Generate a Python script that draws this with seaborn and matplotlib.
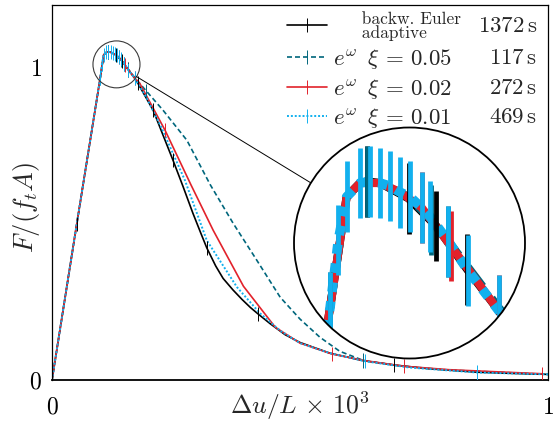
import numpy as np
import matplotlib
matplotlib.use("Agg")
import matplotlib.pyplot as plt
import seaborn as sns
from matplotlib.lines import Line2D
from matplotlib.patches import Circle, Ellipse

# ---------------------------------------------------------------- data
# backward Euler, adaptive step size (reference solution)
euler_x = np.array([0, 0.05, 0.0974, 0.1042, 0.1097, 0.1125, 0.118, 0.1296, 0.141,
                    0.1536, 0.1666, 0.173, 0.204, 0.244, 0.264, 0.284, 0.30, 0.312,
                    0.33, 0.345, 0.365, 0.383, 0.40, 0.415, 0.44, 0.47, 0.5, 0.56,
                    0.627, 0.69, 0.76, 0.857, 0.93, 1.0])
euler_y = np.array([0, 0.50, 0.968, 1.040, 1.049, 1.050, 1.049, 1.039, 1.021,
                    0.993, 0.966, 0.950, 0.863, 0.703, 0.620, 0.534, 0.470, 0.423,
                    0.365, 0.325, 0.288, 0.258, 0.232, 0.212, 0.180, 0.145, 0.120, 0.086,
                    0.062, 0.048, 0.036, 0.025, 0.021, 0.018])
euler_bars = [0.05, 0.1125, 0.1296, 0.141, 0.1536, 0.173, 0.204, 0.244, 0.312, 0.415, 0.69, 1.0]

# exponential integrator, xi = 0.05
xi05_x = np.array([0, 0.05, 0.0974, 0.1042, 0.1097, 0.1125, 0.118, 0.1296, 0.139, 0.146,
                   0.1666, 0.19, 0.224, 0.272, 0.319, 0.365, 0.413, 0.46, 0.5, 0.54,
                   0.58, 0.627, 0.70, 0.80, 1.0])
xi05_y = np.array([0, 0.50, 0.968, 1.040, 1.049, 1.050, 1.049, 1.040, 1.025, 1.011,
                   0.968, 0.925, 0.863, 0.767, 0.625, 0.502, 0.383, 0.265, 0.195, 0.137,
                   0.092, 0.063, 0.045, 0.032, 0.018])
xi05_bars = [0.0974, 0.1125, 0.139, 0.146, 0.19, 0.627]

# exponential integrator, xi = 0.02
xi02_x = np.array([0, 0.05, 0.0974, 0.1042, 0.1097, 0.118, 0.1262, 0.135, 0.147, 0.1666,
                   0.177, 0.228, 0.28, 0.325, 0.386, 0.45, 0.5, 0.565, 0.63, 0.71,
                   0.80, 0.90, 0.988])
xi02_y = np.array([0, 0.50, 0.968, 1.040, 1.049, 1.049, 1.043, 1.033, 1.008, 0.966,
                   0.949, 0.799, 0.625, 0.479, 0.300, 0.169, 0.118, 0.083, 0.062, 0.044,
                   0.033, 0.026, 0.020])
xi02_bars = [0.135, 0.147, 0.1666, 0.228, 0.565, 0.71, 0.988]

# exponential integrator, xi = 0.01
xi01_x = np.array([0, 0.05, 0.0974, 0.1008, 0.1042, 0.1097, 0.1138, 0.118, 0.122, 0.1262,
                   0.1302, 0.135, 0.1385, 0.146, 0.154, 0.1666, 0.19, 0.22, 0.268, 0.312,
                   0.373, 0.419, 0.46, 0.5, 0.56, 0.631, 0.72, 0.857, 0.93, 1.0])
xi01_y = np.array([0, 0.50, 0.968, 1.012, 1.040, 1.049, 1.050, 1.049, 1.047, 1.043,
                   1.040, 1.033, 1.027, 1.011, 0.992, 0.966, 0.905, 0.810, 0.639, 0.447,
                   0.297, 0.214, 0.158, 0.118, 0.086, 0.060, 0.040, 0.024, 0.021, 0.018])
xi01_bars = [0.0974, 0.1008, 0.1042, 0.1097, 0.1138, 0.118, 0.122, 0.1262, 0.1302,
             0.135, 0.1385, 0.146, 0.154, 0.1666, 0.631, 0.857]

labels = ["     backw. Euler\n     adaptive",
          r"$e^{\omega}\;\;\xi\,=\,0.05$",
          r"$e^{\omega}\;\;\xi\,=\,0.02$",
          r"$e^{\omega}\;\;\xi\,=\,0.01$"]
run_times = [r"$1372\,\mathrm{s}$", r"$117\,\mathrm{s}$", r"$272\,\mathrm{s}$", r"$469\,\mathrm{s}$"]

x_ticks = [0, 1]
y_ticks = [0, 1]

# ---------------------------------------------------------------- style
sns.set_theme(style="white")
plt.rcParams.update({
    "font.family": "serif",
    "font.serif": ["cmr10"],
    "mathtext.fontset": "cm",
    "axes.formatter.use_mathtext": True,
    "axes.unicode_minus": False,
})

colors = ["#000000", "#00667c", "#e2222b", "#12b0ee"]
styles = ["-", (0, (3.0, 1.8)), "-", (0, (1.0, 1.0))]
widths = [1.2, 1.2, 1.2, 1.4]
err = 0.023

series = [(euler_x, euler_y, euler_bars),
          (xi05_x, xi05_y, xi05_bars),
          (xi02_x, xi02_y, xi02_bars),
          (xi01_x, xi01_y, xi01_bars)]


def draw_curves(axis, scale):
    for (xs, ys, bars), c, ls, lw in zip(series, colors, styles, widths):
        sns.lineplot(x=xs, y=ys, ax=axis, color=c, linestyle=ls, linewidth=lw * scale,
                     sort=False, estimator=None, legend=False, zorder=2)
    for (xs, ys, bars), c in zip(series, colors):
        m = np.isin(xs, bars)
        axis.errorbar(xs[m], ys[m], yerr=err, fmt="none", ecolor=c,
                      elinewidth=0.7 * scale, capsize=0, zorder=3)


fig = plt.figure(figsize=(5.55, 4.23), dpi=100)
ax = fig.add_axes([52 / 555, 43 / 423, 496 / 555, 375 / 423])
draw_curves(ax, 1.0)

ax.set_xlim(0, 1)
ax.set_ylim(0, 1.2)
ax.set_xticks(x_ticks)
ax.set_yticks(y_ticks)
ax.tick_params(axis="both", direction="in", length=7, width=0.8, color="#999999",
               labelsize=17, colors="#999999", labelcolor="black")
ax.tick_params(axis="x", pad=12)
ax.tick_params(axis="y", pad=7)
for s in ax.spines.values():
    s.set_color("black")
    s.set_linewidth(0.9)
ax.spines["bottom"].set_linewidth(1.3)

ax.set_xlabel(r"$\Delta u/L\,\times\,10^3$", fontsize=18.5)
ax.set_ylabel(r"$F/(f_tA)$", fontsize=19)
ax.xaxis.label.set_va("baseline")
ax.xaxis.set_label_coords(0.5, -0.09)
ax.yaxis.set_label_coords(-0.02, 0.46)

# ---------------------------------------------------------------- magnifier
cx, cy = 0.130, 1.01       # centre of the magnified region
hx, hy = 0.0474, 0.0751    # half-extent of the magnified region
ax.add_patch(Ellipse((cx, cy), 2 * hx, 2 * hy, fill=False, ec="#3a3a3a", lw=0.8, zorder=4))

axin = fig.add_axes([294 / 555, (423 - 358.5) / 423, 231 / 555, 231 / 423])
axin.axis("off")
mag = 231 / (2 * hx * 496)
axin.add_patch(Circle((0.5, 0.5), 0.5, transform=axin.transAxes, fc="white", ec="none", zorder=0))
draw_curves(axin, mag)
axin.set_xlim(cx - hx, cx + hx)
axin.set_ylim(cy - hy, cy + hy)
clip = Circle((0.5, 0.5), 0.5, transform=axin.transAxes)
for art in axin.lines + axin.collections:
    art.set_clip_path(clip)
axin.add_patch(Circle((0.5, 0.5), 0.5, transform=axin.transAxes, fill=False, ec="black",
                      lw=1.3, clip_on=False, zorder=5))

# connector between the two circles along the line of centres
p_small = ax.transData.transform((cx, cy))
p_big = axin.transAxes.transform((0.5, 0.5))
r_small = ax.transData.transform((cx + hx, cy))[0] - p_small[0]
r_big = axin.transAxes.transform((1.0, 0.5))[0] - p_big[0]
d = p_big - p_small
u = d / np.hypot(*d)
a = fig.transFigure.inverted().transform(p_small + u * r_small)
b = fig.transFigure.inverted().transform(p_big - u * r_big)
fig.add_artist(Line2D([a[0], b[0]], [a[1], b[1]], transform=fig.transFigure,
                      color="black", lw=0.7))

# ---------------------------------------------------------------- legend
handles = [Line2D([0], [0], color=c, ls=ls, lw=lw, marker="|", markersize=9.5,
                  markeredgewidth=0.7)
           for c, ls, lw in zip(colors, styles, widths)]
leg = ax.legend(handles, labels, loc="upper left", bbox_to_anchor=(287 / 555, 1 - 12 / 423),
                bbox_transform=fig.transFigure, frameon=False, fontsize=16.5, numpoints=1,
                handlelength=1.75, handletextpad=0.25, labelspacing=0.25, borderpad=0,
                borderaxespad=0)
leg.get_texts()[0].set_fontsize(12.5)
leg.get_texts()[0].set_linespacing(0.85)

fig.canvas.draw()
renderer = fig.canvas.get_renderer()
inv = fig.transFigure.inverted()
for h, t in zip(leg.legend_handles, run_times):
    bb = h.get_window_extent(renderer)
    yc = 0.5 * (bb.y0 + bb.y1) - 7
    fx, fy = inv.transform((537, yc))
    fig.text(fx, fy, t, ha="right", va="baseline", fontsize=16.5)

fig.savefig("out.png", dpi=100)
